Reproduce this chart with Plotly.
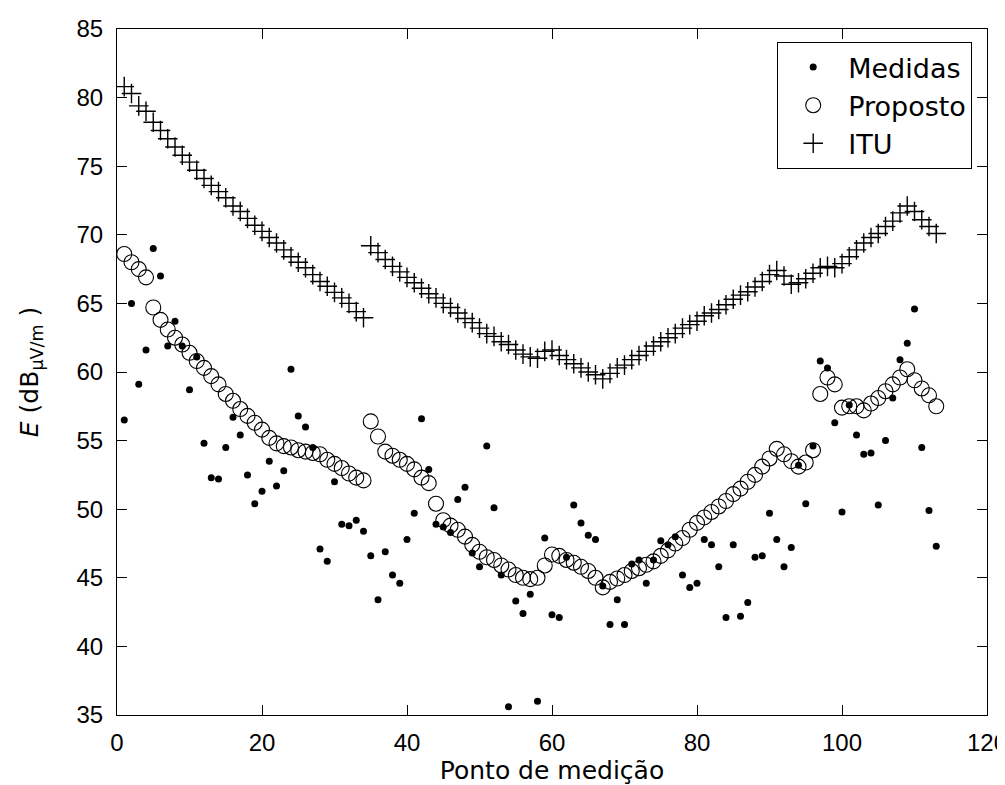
import plotly.graph_objects as go

x_pts = list(range(1, 114))

medidas = [56.5, 65.0, 59.1, 61.6, 69.0, 67.0, 61.9, 63.7, 61.9, 58.7,
           61.1, 54.8, 52.3, 52.2, 54.5, 56.7, 55.4, 52.5, 50.4, 51.3,
           53.5, 51.7, 52.8, 60.2, 56.8, 56.0, 54.5, 47.1, 46.2, 52.0,
           48.9, 48.8, 49.2, 48.4, 46.6, 43.4, 46.9, 45.2, 44.6, 47.8,
           49.7, 56.6, 52.9, 48.9, 48.7, 48.3, 50.7, 51.6, 46.8, 45.8,
           54.6, 50.1, 45.2, 35.6, 43.3, 42.4, 43.8, 36.0, 47.9, 42.3,
           42.1, 46.5, 50.3, 49.0, 48.1, 47.8, 44.4, 41.6, 43.4, 41.6,
           46.0, 46.3, 44.6, 46.3, 47.7, 47.4, 48.0, 45.2, 44.3, 44.6,
           47.8, 47.4, 45.8, 42.1, 47.4, 42.2, 43.2, 46.5, 46.6, 49.7,
           47.8, 45.8, 47.2, 53.2, 50.4, 54.6, 60.8, 60.3, 56.3, 49.8,
           57.6, 55.4, 54.0, 54.1, 50.3, 55.0, 58.1, 60.9, 62.1, 64.6,
           54.5, 49.9, 47.3]

proposto = [68.6, 68.0, 67.5, 66.9, 64.7, 63.8, 63.1, 62.5, 62.0, 61.4,
            60.8, 60.3, 59.7, 59.1, 58.4, 57.9, 57.3, 56.8, 56.3, 55.8,
            55.2, 54.8, 54.6, 54.5, 54.3, 54.2, 54.1, 54.0, 53.6, 53.3,
            53.0, 52.6, 52.3, 52.1, 56.4, 55.3, 54.2, 53.9, 53.6, 53.3,
            52.9, 52.3, 51.9, 50.4, 49.2, 48.8, 48.5, 48.0, 47.4, 46.9,
            46.5, 46.3, 45.9, 45.6, 45.2, 45.0, 44.9, 45.0, 45.9, 46.7,
            46.6, 46.3, 46.1, 45.8, 45.5, 45.0, 44.3, 44.7, 44.95, 45.2,
            45.5, 45.7, 45.95, 46.2, 46.6, 47.0, 47.5, 47.9, 48.5, 49.0,
            49.4, 49.8, 50.2, 50.6, 51.1, 51.5, 52.0, 52.5, 53.1, 53.7,
            54.4, 54.0, 53.5, 53.1, 53.4, 54.3, 58.4, 59.6, 59.1, 57.4,
            57.5, 57.5, 57.2, 57.7, 58.1, 58.6, 59.1, 59.6, 60.2, 59.4,
            58.8, 58.3, 57.5]

itu = [80.8, 80.3, 79.4, 79.0, 78.2, 77.6, 77.0, 76.4, 75.8, 75.3,
       74.7, 74.1, 73.6, 73.15, 72.7, 72.1, 71.7, 71.2, 70.7, 70.25,
       69.8, 69.4, 68.9, 68.4, 68.0, 67.6, 67.1, 66.6, 66.25, 65.8,
       65.4, 65.0, 64.4, 63.95, 69.2, 68.7, 68.2, 67.7, 67.3, 66.9,
       66.5, 66.1, 65.7, 65.4, 65.0, 64.7, 64.3, 63.9, 63.6, 63.2,
       62.8, 62.6, 62.2, 62.0, 61.6, 61.3, 61.1, 61.0, 61.5, 61.6,
       61.2, 60.9, 60.6, 60.3, 60.0, 59.8, 59.5, 59.9, 60.3, 60.5,
       60.9, 61.2, 61.5, 61.9, 62.2, 62.5, 62.8, 63.2, 63.45, 63.7,
       64.1, 64.3, 64.55, 64.9, 65.3, 65.6, 65.85, 66.2, 66.6, 67.1,
       67.4, 67.0, 66.4, 66.5, 66.8, 67.2, 67.6, 67.7, 67.6, 67.9,
       68.4, 68.9, 69.4, 69.8, 70.1, 70.6, 71.0, 71.6, 72.1, 71.7,
       71.1, 70.6, 70.1]

x_ticks = [0, 20, 40, 60, 80, 100, 120]
y_ticks = [35, 40, 45, 50, 55, 60, 65, 70, 75, 80, 85]

TICK_FONT = "Liberation Sans, Arial, sans-serif"
TEXT_FONT = "DejaVu Sans, Verdana, sans-serif"

fig = go.Figure()
fig.add_trace(go.Scatter(x=x_pts, y=medidas, mode="markers", name="Medidas",
                         marker=dict(symbol="circle", size=7, color="black")))
fig.add_trace(go.Scatter(x=x_pts, y=proposto, mode="markers", name="Proposto",
                         marker=dict(symbol="circle-open", size=15, color="black",
                                     line=dict(width=1.1, color="black"))))
fig.add_trace(go.Scatter(x=x_pts, y=itu, mode="markers", name="ITU",
                         marker=dict(symbol="cross-thin", size=14, color="black",
                                     line=dict(width=1.4, color="black"))))

axis_common = dict(showline=True, linecolor="black", linewidth=1, mirror="ticks",
                   ticks="inside", ticklen=10, tickcolor="black", tickwidth=1,
                   showgrid=False, zeroline=False,
                   tickfont=dict(family=TICK_FONT, size=24, color="black"))

fig.update_xaxes(range=[0, 120], tickvals=x_ticks, ticklabelstandoff=6,
                 title=dict(text="Ponto de medição", standoff=2,
                            font=dict(family=TEXT_FONT, size=25, color="black")),
                 **axis_common)
fig.update_yaxes(range=[35, 85], tickvals=y_ticks, ticklabelstandoff=8,
                 title=dict(text="<i>E</i> (dB<sub>μV/m</sub> )", standoff=30,
                            font=dict(family=TEXT_FONT, size=25, color="black")),
                 **axis_common)

fig.update_layout(
    width=1005, height=785,
    margin=dict(l=109, r=26, t=21, b=78, autoexpand=False),
    paper_bgcolor="white", plot_bgcolor="white",
    showlegend=True,
    legend=dict(x=0.983, y=0.981, xanchor="right", yanchor="top",
                bgcolor="white", bordercolor="black", borderwidth=1,
                font=dict(family=TEXT_FONT, size=27, color="black"),
                itemwidth=60, tracegroupgap=0),
)

fig.write_html("out.html")
